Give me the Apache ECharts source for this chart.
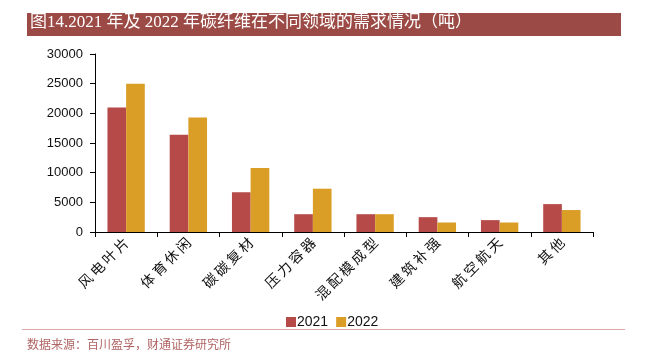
<!DOCTYPE html>
<html>
<head>
<meta charset="utf-8">
<script src="https://cdn.jsdelivr.net/npm/echarts@6/dist/echarts.min.js"></script>
<style>html,body{margin:0;padding:0;background:#fff}#c{width:650px;height:362px}</style>
</head>
<body>
<div id="c"></div>
<script>
const categories = ['风电叶片','体育休闲','碳碳复材','压力容器','混配模成型','建筑补强','航空航天','其他'];
const values2021 = [21000, 16400, 6700, 3000, 3000, 2500, 2000, 4700];
const values2022 = [25000, 19300, 10800, 7300, 3000, 1600, 1600, 3700];
const seriesNames = ['2021', '2022'];
const yTicks = {min: 0, max: 30000, interval: 5000};
const titleText = '图14.2021 年及 2022 年碳纤维在不同领域的需求情况（吨）';
const sourceText = '数据来源：百川盈孚，财通证券研究所';

const chart = echarts.init(document.getElementById('c'));
chart.setOption({
  animation: false,
  backgroundColor: '#fff',
  grid: {left: 95, right: 57, top: 54, bottom: 130, containLabel: false},
  legend: {
    left: 281, top: 310, itemWidth: 10, itemHeight: 10, itemGap: 8,
    icon: 'rect',
    textStyle: {fontFamily: 'Liberation Sans, Arial', fontSize: 14, color: '#111', padding: [0,0,0,-4]},
    data: seriesNames
  },
  xAxis: {
    type: 'category', data: categories,
    axisLine: {lineStyle: {color: '#000', width: 1}},
    axisTick: {show: true, length: 5, lineStyle: {color: '#000'}},
    axisLabel: {rotate: 45, interval: 0, margin: 8, fontFamily: 'Noto Sans CJK SC', fontSize: 14, color: '#111',
      formatter: v => v.split('').join('\u2009')}
  },
  yAxis: {
    type: 'value', min: yTicks.min, max: yTicks.max, interval: yTicks.interval,
    splitLine: {show: false},
    axisLine: {show: true, lineStyle: {color: '#000', width: 1}},
    axisTick: {show: true, length: 5, inside: false, lineStyle: {color: '#000'}},
    axisLabel: {fontFamily: 'Liberation Sans, Arial', fontSize: 13, color: '#111', margin: 12, formatter: v => String(v)}
  },
  series: [
    {name: seriesNames[0], type: 'bar', data: values2021, barGap: '0%', barCategoryGap: '40%', itemStyle: {color: '#B54A48'}},
    {name: seriesNames[1], type: 'bar', data: values2022, itemStyle: {color: '#DA9E27'}}
  ],
  graphic: [
    {type: 'rect', shape: {x: 27, y: 13, width: 594, height: 23}, style: {fill: '#9C4A45'}},
    {type: 'text', left: 30, top: 14, style: {text: titleText, fill: '#fff', font: '17px "Liberation Serif", "Noto Sans CJK SC"'}},
    {type: 'rect', shape: {x: 22, y: 329, width: 603, height: 1}, style: {fill: '#DDAAAA'}},
    {type: 'text', left: 27, top: 338, style: {text: sourceText, fill: '#B06464', font: '12px "Noto Sans CJK SC"'}}
  ]
});
</script>
</body>
</html>
